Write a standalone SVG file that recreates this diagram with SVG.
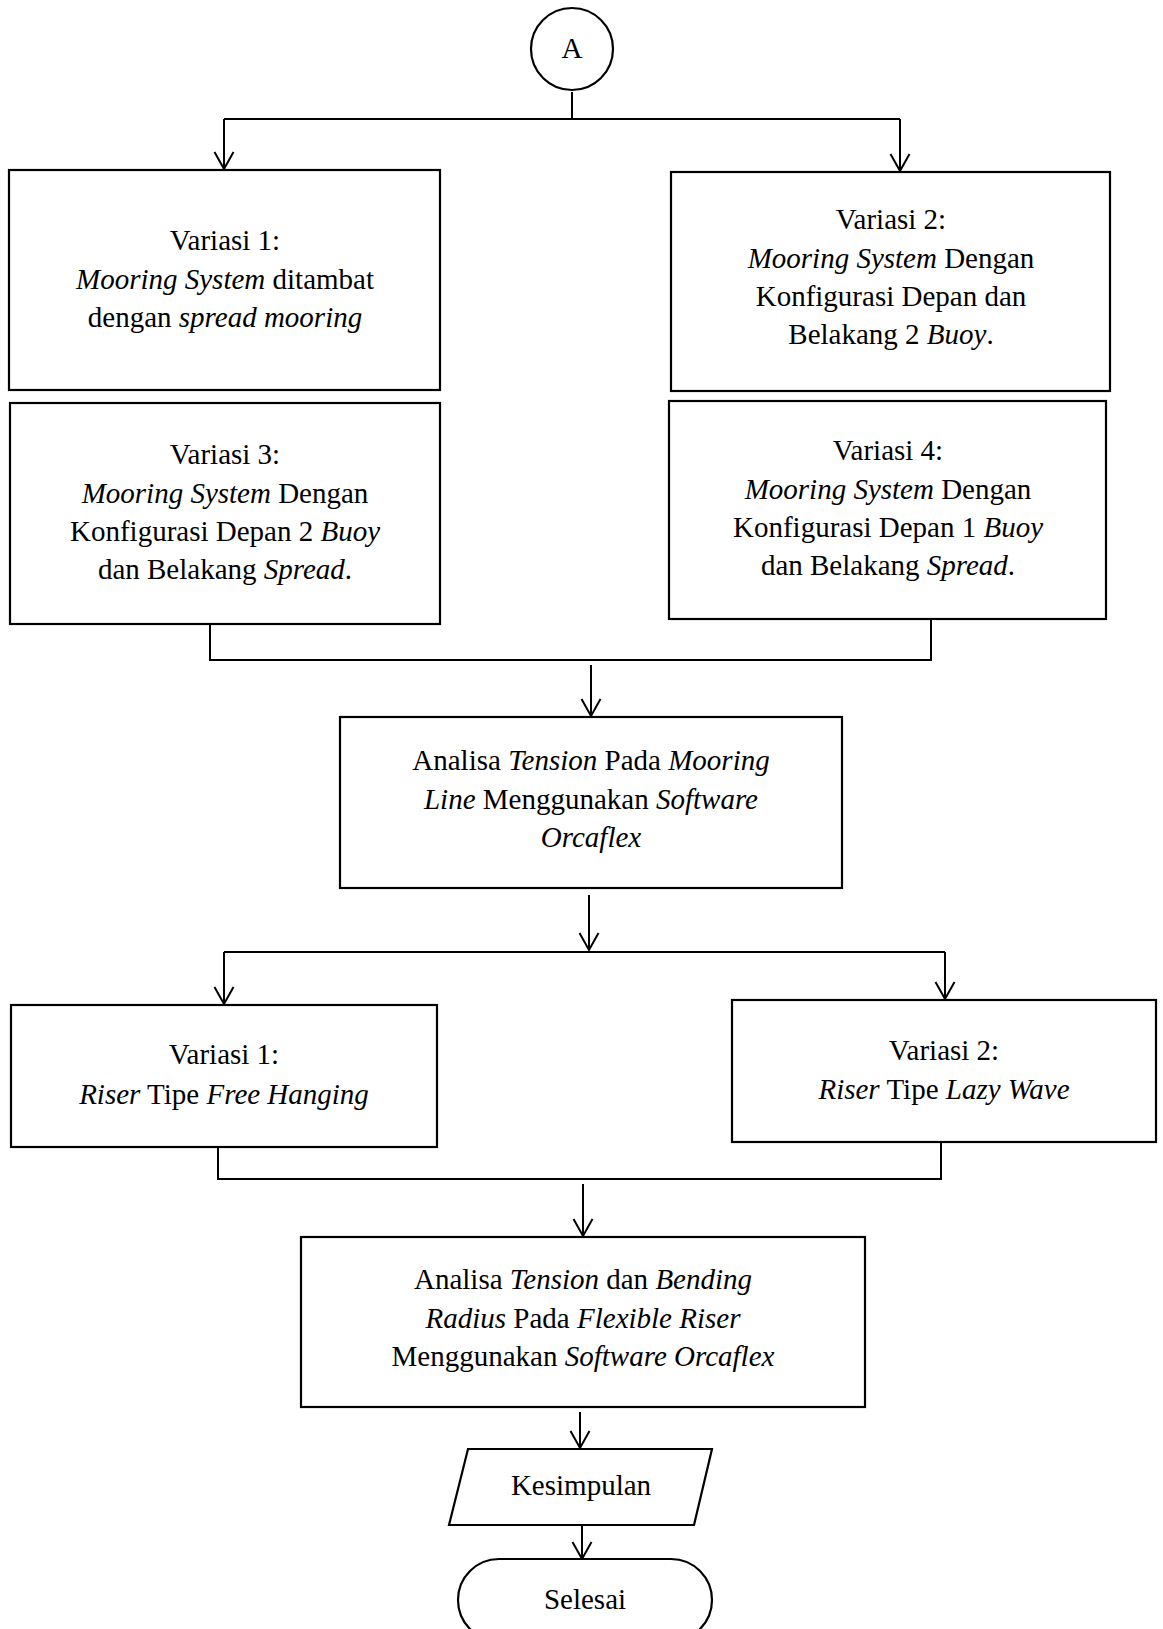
<svg xmlns="http://www.w3.org/2000/svg" width="1163" height="1629" viewBox="0 0 1163 1629">
<defs>
<marker id="arr" viewBox="-18 -10 20 20" refX="0" refY="0" markerWidth="20" markerHeight="20" markerUnits="userSpaceOnUse" orient="auto" overflow="visible">
<path d="M-17,-9.5 L0,0 L-17,9.5" fill="none" stroke="#000" stroke-width="2"/>
</marker>
<style>
.b{fill:#fff;stroke:#000;stroke-width:2.2}
.c{fill:none;stroke:#000;stroke-width:2}
.t{font-family:"Liberation Serif","Times New Roman",serif;font-size:29px;fill:#000;text-anchor:middle}
.i{font-style:italic}
</style>
</defs>
<rect width="1163" height="1629" fill="#fff"/>
<g id="connectors">
<path class="c" d="M572,92 V119 M224,119 H900"/>
<path class="c" d="M224,119 V169" marker-end="url(#arr)"/>
<path class="c" d="M900,119 V171" marker-end="url(#arr)"/>
<path class="c" d="M210,624 V660 H931 V619"/>
<path class="c" d="M591,665 V716" marker-end="url(#arr)"/>
<path class="c" d="M589,895 V950" marker-end="url(#arr)"/>
<path class="c" d="M224,952 H945"/>
<path class="c" d="M224,952 V1004" marker-end="url(#arr)"/>
<path class="c" d="M945,952 V999" marker-end="url(#arr)"/>
<path class="c" d="M218,1147 V1179 H941 V1142"/>
<path class="c" d="M583,1184 V1236" marker-end="url(#arr)"/>
<path class="c" d="M580,1412 V1448" marker-end="url(#arr)"/>
<path class="c" d="M582,1525 V1559" marker-end="url(#arr)"/>
</g>
<g id="nodeA">
<circle class="b" cx="572" cy="49" r="41"/>
<text class="t" x="572" y="58">A</text>
</g>
<g id="var1">
<rect class="b" x="9" y="170" width="431" height="220"/>
<text class="t" x="225" y="250">Variasi 1:</text>
<text class="t" x="225" y="289"><tspan class="i">Mooring System</tspan> ditambat</text>
<text class="t" x="225" y="327">dengan <tspan class="i">spread mooring</tspan></text>
</g>
<g id="var2">
<rect class="b" x="671" y="172" width="439" height="219"/>
<text class="t" x="891" y="229">Variasi 2:</text>
<text class="t" x="891" y="268"><tspan class="i">Mooring System</tspan> Dengan</text>
<text class="t" x="891" y="306">Konfigurasi Depan dan</text>
<text class="t" x="891" y="344">Belakang 2 <tspan class="i">Buoy</tspan>.</text>
</g>
<g id="var3">
<rect class="b" x="10" y="403" width="430" height="221"/>
<text class="t" x="225" y="464">Variasi 3:</text>
<text class="t" x="225" y="503"><tspan class="i">Mooring System</tspan> Dengan</text>
<text class="t" x="225" y="541">Konfigurasi Depan 2 <tspan class="i">Buoy</tspan></text>
<text class="t" x="225" y="579">dan Belakang <tspan class="i">Spread</tspan>.</text>
</g>
<g id="var4">
<rect class="b" x="669" y="401" width="437" height="218"/>
<text class="t" x="888" y="460">Variasi 4:</text>
<text class="t" x="888" y="499"><tspan class="i">Mooring System</tspan> Dengan</text>
<text class="t" x="888" y="537">Konfigurasi Depan 1 <tspan class="i">Buoy</tspan></text>
<text class="t" x="888" y="575">dan Belakang <tspan class="i">Spread</tspan>.</text>
</g>
<g id="analisa1">
<rect class="b" x="340" y="717" width="502" height="171"/>
<text class="t" x="591" y="770">Analisa <tspan class="i">Tension</tspan> Pada <tspan class="i">Mooring</tspan></text>
<text class="t" x="591" y="809"><tspan class="i">Line</tspan> Menggunakan <tspan class="i">Software</tspan></text>
<text class="t" x="591" y="847" font-style="italic">Orcaflex</text>
</g>
<g id="riser1">
<rect class="b" x="11" y="1005" width="426" height="142"/>
<text class="t" x="224" y="1064">Variasi 1:</text>
<text class="t" x="224" y="1104"><tspan class="i">Riser</tspan> Tipe <tspan class="i">Free Hanging</tspan></text>
</g>
<g id="riser2">
<rect class="b" x="732" y="1000" width="424" height="142"/>
<text class="t" x="944" y="1060">Variasi 2:</text>
<text class="t" x="944" y="1099"><tspan class="i">Riser</tspan> Tipe <tspan class="i">Lazy Wave</tspan></text>
</g>
<g id="analisa2">
<rect class="b" x="301" y="1237" width="564" height="170"/>
<text class="t" x="583" y="1289">Analisa <tspan class="i">Tension</tspan> dan <tspan class="i">Bending</tspan></text>
<text class="t" x="583" y="1328"><tspan class="i">Radius</tspan> Pada <tspan class="i">Flexible Riser</tspan></text>
<text class="t" x="583" y="1366">Menggunakan <tspan class="i">Software Orcaflex</tspan></text>
</g>
<g id="kesimpulan">
<polygon class="b" points="468,1449 712,1449 694,1525 449,1525"/>
<text class="t" x="581" y="1495">Kesimpulan</text>
</g>
<g id="selesai">
<rect class="b" x="458" y="1559" width="254" height="82" rx="41" ry="41"/>
<text class="t" x="585" y="1609">Selesai</text>
</g>
</svg>
